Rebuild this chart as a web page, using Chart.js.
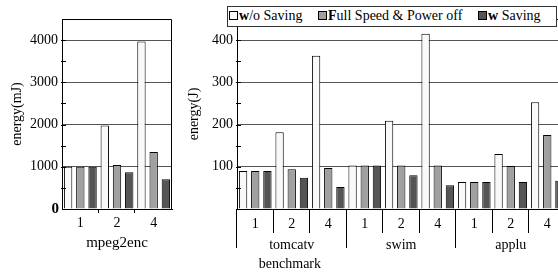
<!DOCTYPE html>
<html>
<head>
<meta charset="utf-8">
<script src="https://cdn.jsdelivr.net/npm/chart.js@4.4.1/dist/chart.umd.min.js"></script>
<style>
  html, body { margin: 0; padding: 0; background: #fff; }
  body { position: relative; width: 558px; height: 274px; overflow: hidden; }
  canvas { position: absolute; top: 0; }
  #left { left: 0; }
  #right { left: 180px; }
  .legend {
    position: absolute; left: 227px; top: 6px; width: 328px; height: 19px;
    border: 1px solid #333; background: #fff;
    font-family: 'Liberation Serif', serif; font-size: 14px; color: #000;
  }
  .legend .item { position: absolute; top: 1px; line-height: 16px; white-space: nowrap; font-family: 'Liberation Serif', serif; }
  .legend .box { display: inline-block; width: 7px; height: 7px; border: 1px solid #000; margin-right: 1px; vertical-align: 0; }
</style>
</head>
<body>
<canvas id="left" width="180" height="274"></canvas>
<canvas id="right" width="390" height="274"></canvas>
<div class="legend">
  <div class="item" style="left:1px"><span class="box" style="background:#f9f9f9"></span><b>w</b>/o Saving</div>
  <div class="item" style="left:90px"><span class="box" style="background:#a0a0a0"></span><b>F</b>ull Speed &amp; Power off</div>
  <div class="item" style="left:250px"><span class="box" style="background:#555"></span><b>w</b> Saving</div>
</div>
<script>
// mpeg2enc (mJ)
const mpegThreads = ['1', '2', '4'];
const mpegWoSaving = [1000, 1975, 3970];
const mpegFullSpeed = [1000, 1045, 1350];
const mpegWSaving = [1000, 870, 705];

// tomcatv / swim / applu (J)
const benchGroups = ['tomcatv', 'swim', 'applu'];
const benchThreads = ['1', '2', '4', '1', '2', '4', '1', '2', '4'];
const benchWoSaving = [90, 182, 363, 103, 209, 415, 64, 130, 253];
const benchFullSpeed = [90, 94, 97, 103, 103, 103, 64, 102, 175];
const benchWSaving = [90, 74, 52, 103, 80, 56, 64, 64, 67];

const seriesNames = ['w/o Saving', 'Full Speed & Power off', 'w Saving'];
const seriesColors = ['#f9f9f9', '#a0a0a0', '#555555'];

Chart.defaults.font.family = "'Liberation Serif', serif";
Chart.defaults.font.size = 14;
Chart.defaults.color = '#000';

// frame, inward minor ticks, x dividers, bold zero
const axisDecor = {
    id: 'axisDecor',
    afterDraw(chart, args, o) {
        const ctx = chart.ctx, a = chart.chartArea;
        const x = chart.scales.x, y = chart.scales.y;
        ctx.save();
        ctx.strokeStyle = '#000';
        ctx.lineWidth = 1;
        ctx.beginPath();
        ctx.moveTo(a.left, a.top + 0.5);
        ctx.lineTo(a.right - 0.5, a.top + 0.5);
        ctx.lineTo(a.right - 0.5, a.bottom);
        for (let v = o.minor; v < y.max; v += o.minor) {
            const py = Math.round(y.getPixelForValue(v)) + 0.5;
            ctx.moveTo(a.left - 1, py);
            ctx.lineTo(a.left + 4, py);
        }
        const n = x.getLabels().length;
        const step = (x.right - x.left) / n;
        for (let i = 0; i <= n; i++) {
            let len = o.tickLen;
            if (o.groupSize) {
                if (i % o.groupSize === 0) len = o.groupLen;
            } else if (i === 0 || i === n) {
                continue;
            }
            const px = Math.round(x.left + i * step) - 0.5;
            ctx.moveTo(px, a.bottom);
            ctx.lineTo(px, a.bottom + len);
        }
        ctx.stroke();
        ctx.fillStyle = '#000';
        ctx.textBaseline = 'middle';
        if (o.zero) {
            ctx.font = "bold 15px 'Liberation Serif', serif";
            ctx.textAlign = 'right';
            ctx.fillText('0', a.left - 3, y.getPixelForValue(0));
        }
        if (o.caption) {
            ctx.font = "14px 'Liberation Serif', serif";
            ctx.textAlign = 'center';
            ctx.fillText(o.caption, x.left + step * 1.45, o.captionY);
        }
        ctx.restore();
    }
};

function makeDatasets(a, b, c) {
    return [a, b, c].map(function (d, i) {
        return {
            label: seriesNames[i],
            data: d,
            backgroundColor: seriesColors[i],
            borderColor: '#000',
            borderWidth: 1,
            barPercentage: 0.685,
            categoryPercentage: 1
        };
    });
}

function yScale(max, step, major, width, title) {
    return {
        min: 0, max: max,
        afterFit: function (s) { s.width = width; },
        ticks: {
            stepSize: step,
            padding: 4,
            autoSkip: false,
            font: { size: 14 },
            callback: function (v) {
                return v > 0 && v % major === 0 && v < max ? String(v) : '';
            }
        },
        grid: {
            drawTicks: false,
            color: function (c) {
                const v = c.tick ? c.tick.value : 0;
                return v > 0 && v < max && v % major === 0 ? '#555' : 'rgba(0,0,0,0)';
            }
        },
        border: { color: '#000', width: 1 },
        title: { display: true, text: title, font: { size: 14 }, padding: { top: width > 60 ? 9 : 6, bottom: 0 } }
    };
}

new Chart(document.getElementById('left'), {
    type: 'bar',
    data: { labels: mpegThreads, datasets: makeDatasets(mpegWoSaving, mpegFullSpeed, mpegWSaving) },
    options: {
        responsive: false,
        animation: false,
        layout: { padding: { top: 19, right: 8, left: 0, bottom: 0 } },
        plugins: {
            legend: { display: false },
            tooltip: { enabled: false },
            axisDecor: { minor: 500, tickLen: 4, groupSize: 0, zero: true }
        },
        scales: {
            x: {
                afterFit: function (s) { s.height = 65; },
                grid: { display: false, drawTicks: false },
                border: { color: '#000', width: 1 },
                ticks: { padding: 6 },
                title: { display: true, text: 'mpeg2enc', font: { size: 15 }, padding: { top: 0, bottom: 22 } }
            },
            y: yScale(4500, 500, 1000, 62, 'energy(mJ)')
        }
    },
    plugins: [axisDecor]
});

new Chart(document.getElementById('right'), {
    type: 'bar',
    data: { labels: benchThreads, datasets: makeDatasets(benchWoSaving, benchFullSpeed, benchWSaving) },
    options: {
        responsive: false,
        animation: false,
        layout: { padding: { top: 19, right: 4.5, left: 0, bottom: 0 } },
        plugins: {
            legend: { display: false },
            tooltip: { enabled: false },
            axisDecor: { minor: 50, tickLen: 24, groupSize: 3, groupLen: 39, caption: 'benchmark', captionY: 264 }
        },
        scales: {
            x: {
                weight: 0,
                afterFit: function (s) { s.height = 24; },
                grid: { display: false, drawTicks: false },
                border: { color: '#000', width: 1 },
                ticks: { padding: 7, autoSkip: false }
            },
            x2: {
                type: 'category',
                position: 'bottom',
                weight: 1,
                labels: benchGroups,
                offset: true,
                afterFit: function (s) { s.height = 41; },
                grid: { display: false, drawTicks: false },
                border: { display: false },
                ticks: { padding: 4, autoSkip: false }
            },
            y: yScale(450, 50, 100, 57, 'energy(J)')
        }
    },
    plugins: [axisDecor]
});
</script>
</body>
</html>
